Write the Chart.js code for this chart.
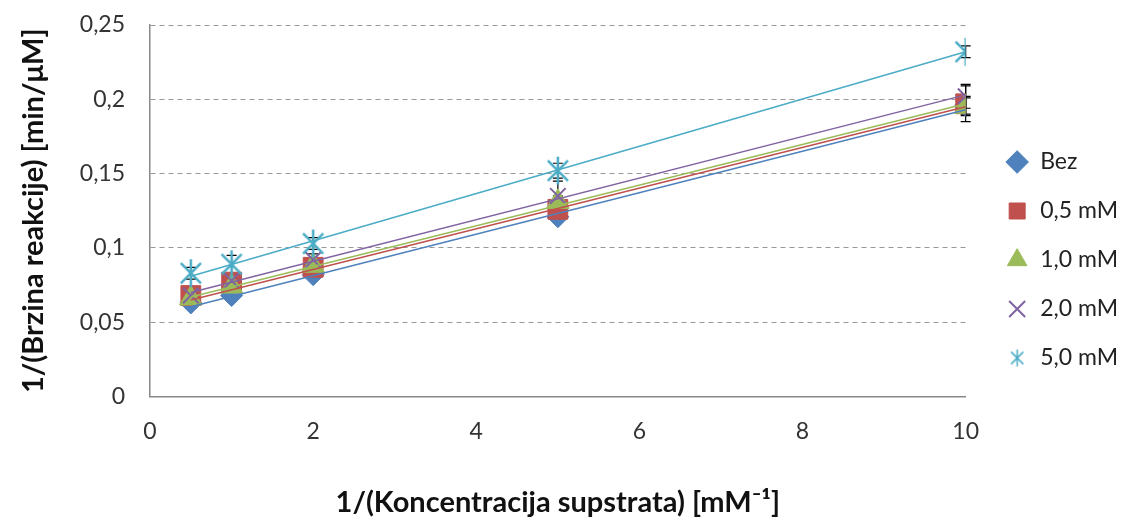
<!DOCTYPE html>
<html>
<head>
<meta charset="utf-8">
<script src="https://cdn.jsdelivr.net/npm/chart.js@4"></script>
<style>
  html, body { margin: 0; padding: 0; background: #fff; }
  #wrap { width: 1128px; height: 520px; position: relative; }
</style>
</head>
<body>
<div id="wrap"><canvas id="chart"></canvas></div>
<script>
  // values
  const xValues = [0.5, 1, 2, 5, 10];
  const seriesNames = ['Bez', '0,5 mM', '1,0 mM', '2,0 mM', '5,0 mM'];
  const bez = [0.063, 0.068, 0.082, 0.121, 0.196];
  const c05 = [0.068, 0.077, 0.087, 0.126, 0.197];
  const c10 = [0.066, 0.074, 0.088, 0.131, 0.195];
  const c20 = [0.068, 0.078, 0.092, 0.135, 0.202];
  const c50 = [0.083, 0.089, 0.103, 0.152, 0.232];
  const errBez = [0.002, 0.002, 0.002, 0.003, 0.006];
  const err05 = [0.003, 0.003, 0.003, 0.004, 0.012];
  const err10 = [0.002, 0.002, 0.003, 0.004, 0.006];
  const err20 = [0.003, 0.003, 0.004, 0.010, 0.008];
  const err50 = [0.004, 0.006, 0.004, 0.005, 0.004];
  // linear trendline ends (at x = 0.5 and x = 10)
  const trendX = [0.5, 10];
  const trendBez = [0.0605, 0.193];
  const trend05 = [0.0650, 0.195];
  const trend10 = [0.0670, 0.197];
  const trend20 = [0.0700, 0.203];
  const trend50 = [0.0810, 0.232];
  const yTicks = [0, 0.05, 0.1, 0.15, 0.2, 0.25];
  const xTicks = [0, 2, 4, 6, 8, 10];

  const colors = ['#4f81bd', '#c0504d', '#9bbb59', '#8064a2', '#4bacc6'];
  const values = [bez, c05, c10, c20, c50];
  const errors = [errBez, err05, err10, err20, err50];
  const trends = [trendBez, trend05, trend10, trend20, trend50];

  const FONT = 'Lato, "Open Sans", sans-serif';

  // Excel-like asterisk marker: X plus a vertical stroke
  function starImage(size, color, lw) {
    const c = document.createElement('canvas');
    c.width = size; c.height = size;
    const g = c.getContext('2d');
    const m = size / 2, r = size / 2 - 1;
    const d = r * 0.72;
    g.strokeStyle = color;
    g.lineWidth = lw;
    g.beginPath();
    g.moveTo(m, m - r); g.lineTo(m, m + r);
    g.moveTo(m - d, m - d); g.lineTo(m + d, m + d);
    g.moveTo(m - d, m + d); g.lineTo(m + d, m - d);
    g.stroke();
    return c;
  }
  const starBig = starImage(30, colors[4], 2.5);
  const starSmall = starImage(19, colors[4], 1.5);

  const styles = ['rectRot', 'rect', 'triangle', 'crossRot', starBig];
  const radii = [11, 14, 13, 11, 15];

  const pts = (ys, xs) => ys.map((y, i) => ({ x: xs[i], y }));

  const markerSets = values.map((v, i) => ({
    label: seriesNames[i],
    data: pts(v, xValues),
    errors: errors[i],
    showLine: false,
    pointStyle: styles[i],
    pointRadius: radii[i],
    pointHoverRadius: radii[i],
    backgroundColor: colors[i],
    borderColor: colors[i],
    pointBorderWidth: styles[i] === 'crossRot' ? 2 : 1,
    order: 10 - i
  }));

  const trendSets = trends.map((t, i) => ({
    label: 'trend ' + seriesNames[i],
    data: pts(t, trendX),
    showLine: true,
    pointRadius: 0,
    borderColor: colors[i],
    borderWidth: 1.5,
    backgroundColor: colors[i],
    order: -1
  }));

  const errorBars = {
    id: 'errorBars',
    beforeDatasetsDraw(chart) {
      const { ctx, scales: { x, y } } = chart;
      ctx.save();
      ctx.strokeStyle = '#000';
      ctx.lineWidth = 1.2;
      chart.data.datasets.forEach((ds) => {
        if (!ds.errors) return;
        ds.data.forEach((p, i) => {
          const px = x.getPixelForValue(p.x);
          const top = y.getPixelForValue(p.y + ds.errors[i]);
          const bot = y.getPixelForValue(p.y - ds.errors[i]);
          ctx.beginPath();
          ctx.moveTo(px, top); ctx.lineTo(px, bot);
          ctx.moveTo(px - 5, top); ctx.lineTo(px + 5, top);
          ctx.moveTo(px - 5, bot); ctx.lineTo(px + 5, bot);
          ctx.stroke();
        });
      });
      ctx.restore();
    }
  };

  const fmt = (v) => String(Number(v.toFixed(2))).replace('.', ',');

  new Chart(document.getElementById('chart'), {
    type: 'scatter',
    data: { datasets: markerSets.concat(trendSets) },
    plugins: [errorBars],
    options: {
      responsive: true,
      maintainAspectRatio: false,
      animation: false,
      layout: { padding: { top: 0, right: 0, bottom: 0, left: 16 } },
      plugins: {
        tooltip: { enabled: false },
        legend: {
          position: 'right',
          labels: {
            usePointStyle: true,
            boxHeight: 16,
            padding: 26,
            color: '#222',
            font: { family: FONT, size: 23 },
            sort: (a, b) => a.datasetIndex - b.datasetIndex,
            filter: (item) => !item.text.startsWith('trend'),
            generateLabels: (chart) => {
              const items = Chart.defaults.plugins.legend.labels.generateLabels(chart);
              items.forEach((it) => { if (it.pointStyle === starBig) it.pointStyle = starSmall; });
              return items;
            }
          }
        }
      },
      scales: {
        x: {
          type: 'linear',
          min: 0,
          max: 10,
          afterBuildTicks: (axis) => { axis.ticks = xTicks.map((v) => ({ value: v })); },
          grid: { drawOnChartArea: false, drawTicks: false },
          border: { color: '#888', width: 1.5 },
          ticks: { color: '#333', padding: 21, font: { family: FONT, size: 23 }, callback: (v) => fmt(v) },
          title: {
            display: true,
            text: '1/(Koncentracija supstrata) [mM⁻¹]',
            color: '#111',
            padding: { top: 19, bottom: 0 },
            font: { family: FONT, size: 29, weight: 'bold' }
          }
        },
        y: {
          type: 'linear',
          min: 0,
          max: 0.25,
          afterBuildTicks: (axis) => { axis.ticks = yTicks.map((v) => ({ value: v })); },
          afterFit: (axis) => { axis.paddingTop = 25; },
          grid: { color: '#999', drawTicks: false },
          border: { color: '#888', width: 1.5, dash: [5, 4] },
          ticks: { color: '#333', padding: 25, font: { family: FONT, size: 23 }, callback: (v) => fmt(v) },
          title: {
            display: true,
            text: '1/(Brzina reakcije) [min/μM]',
            color: '#111',
            padding: { top: 0, bottom: 4 },
            font: { family: FONT, size: 29, weight: 'bold' }
          }
        },
        gap: {
          type: 'linear',
          position: 'right',
          display: true,
          grid: { display: false },
          border: { display: false },
          ticks: { display: false },
          afterFit: (axis) => { axis.width = 14; }
        }
      }
    }
  });
</script>
</body>
</html>
